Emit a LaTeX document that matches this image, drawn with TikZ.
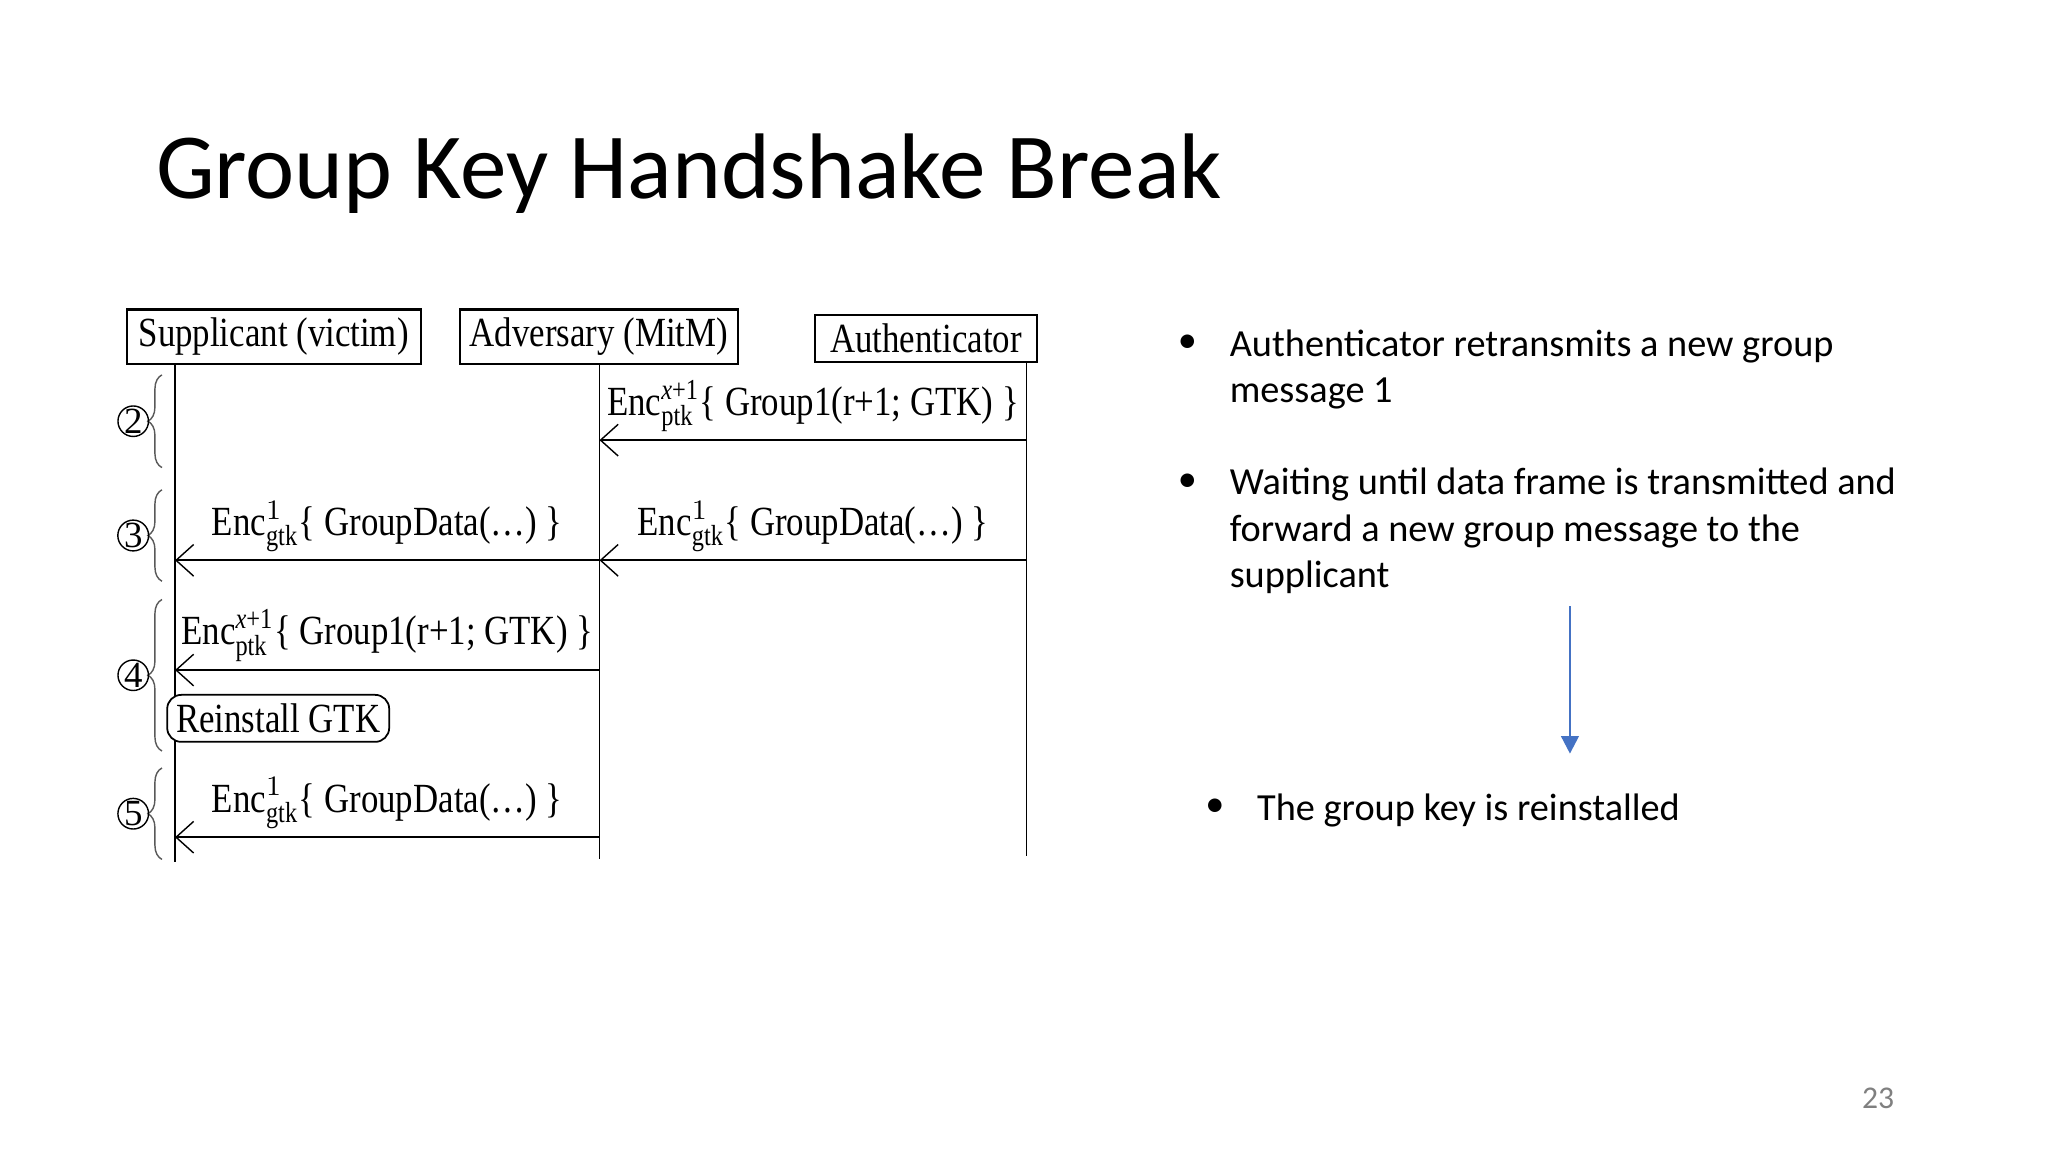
\documentclass[tikz,border=0pt]{standalone}
\usepackage{fontspec}
\usepackage{amsmath}
\setmainfont{Liberation Serif}
\newfontfamily\dfont[FakeStretch=0.84]{Liberation Serif}
\newfontfamily\slidefont{Carlito}
\usetikzlibrary{arrows.meta,decorations.pathreplacing}
\newcommand{\Enc}[2]{\text{Enc}^{#1}_{\text{#2}}}
\begin{document}
\begin{tikzpicture}[x=0.013061cm,y=-0.013061cm,
  actor/.style={draw,line width=0.6pt,font=\dfont\fontsize{11.8}{14}\selectfont,inner sep=0pt},
  life/.style={line width=0.5pt},
  msg/.style={line width=0.6pt,-{Straight Barb[length=5pt,width=9pt,line width=0.4pt]}},
  lbl/.style={font=\dfont\fontsize{11.8}{14}\selectfont,anchor=south,inner sep=2pt},
  brc/.style={decorate,decoration={brace,amplitude=4pt},line width=0.4pt,gray!70!black},
  num/.style={circle,draw,line width=0.4pt,inner sep=0pt,minimum size=0.30cm,font=\fontsize{10.5}{12}\selectfont},
  bul/.style={font=\slidefont\fontsize{10.9}{13.2}\selectfont,anchor=north west,inner sep=0pt,align=left},
  dot/.style={font=\slidefont\fontsize{10.9}{13.2}\selectfont,anchor=north east,inner sep=0pt,yshift=-1.5pt}]
\useasboundingbox[fill=white] (0,0) rectangle (1568,882);
\node[font=\slidefont\fontsize{26.5}{32}\selectfont,anchor=west,inner sep=0pt] (title) at (119,133) {Group Key Handshake Break};
% actors
\node[actor,minimum width=2.939cm,minimum height=0.549cm] (sup) at (209.5,258) {Supplicant (victim)};
\node[actor,minimum width=2.782cm,minimum height=0.549cm] (adv) at (458.5,258) {Adversary (MitM)};
\node[actor,minimum width=2.220cm,minimum height=0.470cm] (aut) at (709,259) {Authenticator};
\coordinate (s0) at (134,279); \coordinate (s1) at (134,660);
\coordinate (a0) at (459,279); \coordinate (a1) at (459,658);
\coordinate (u0) at (786,277); \coordinate (u1) at (786,655);
\draw[life] (s0)--(s1); \draw[life] (a0)--(a1); \draw[life] (u0)--(u1);
% messages
\coordinate (u337) at (786,337); \coordinate (a337) at (459,337);
\draw[msg] (u337) -- node[lbl] {$\Enc{\textit{x}\text{+1}}{ptk}\text{\{ Group1(r+1; GTK) \}}$} (a337);
\coordinate (u429) at (786,429); \coordinate (a429) at (459,429); \coordinate (s429) at (134,429);
\draw[msg] (u429) -- node[lbl] {$\Enc{1}{gtk}\text{\{ GroupData(\dots) \}}$} (a429);
\draw[msg] (a429) -- node[lbl] {$\Enc{1}{gtk}\text{\{ GroupData(\dots) \}}$} (s429);
\coordinate (a513) at (459,513); \coordinate (s513) at (134,513);
\draw[msg] (a513) -- node[lbl] {$\Enc{\textit{x}\text{+1}}{ptk}\text{\{ Group1(r+1; GTK) \}}$} (s513);
\coordinate (a641) at (459,641); \coordinate (s641) at (134,641);
\draw[msg] (a641) -- node[lbl] {$\Enc{1}{gtk}\text{\{ GroupData(\dots) \}}$} (s641);
\node[draw,rounded corners=4pt,line width=0.5pt,fill=white,font=\dfont\fontsize{11.8}{14}\selectfont,minimum width=2.220cm,minimum height=0.470cm,inner sep=0pt] (re) at (213,550) {Reinstall GTK};
% braces
\foreach \a/\b/\n in {287/358/2,375/445/3,459/575/4,588/658/5}{
  \draw[brc] (124,\b) -- (124,\a);
  \node[num] at (102,{(\a+\b)/2}) {\n};
}
% bullets
\node[bul] (b1) at (941,252) {Authenticator retransmits a new group\\message 1};
\node[dot] at (917,252) {•};
\node[bul] (b2) at (941,358) {Waiting until data frame is transmitted and\\forward a new group message to the\\supplicant};
\node[dot] at (917,358) {•};
\coordinate (ar0) at (1202,464); \coordinate (ar1) at (1202,577);
\draw[line width=0.7pt,color={rgb,255:red,68;green,114;blue,196},-{Triangle[length=5pt,width=5pt]}] (ar0)--(ar1);
\node[bul] (b3) at (962,607) {The group key is reinstalled};
\node[dot] at (938,607) {•};
\node[font=\slidefont\fontsize{9}{11}\selectfont,text=gray] (pg) at (1438,841) {23};
\end{tikzpicture}
\end{document}
